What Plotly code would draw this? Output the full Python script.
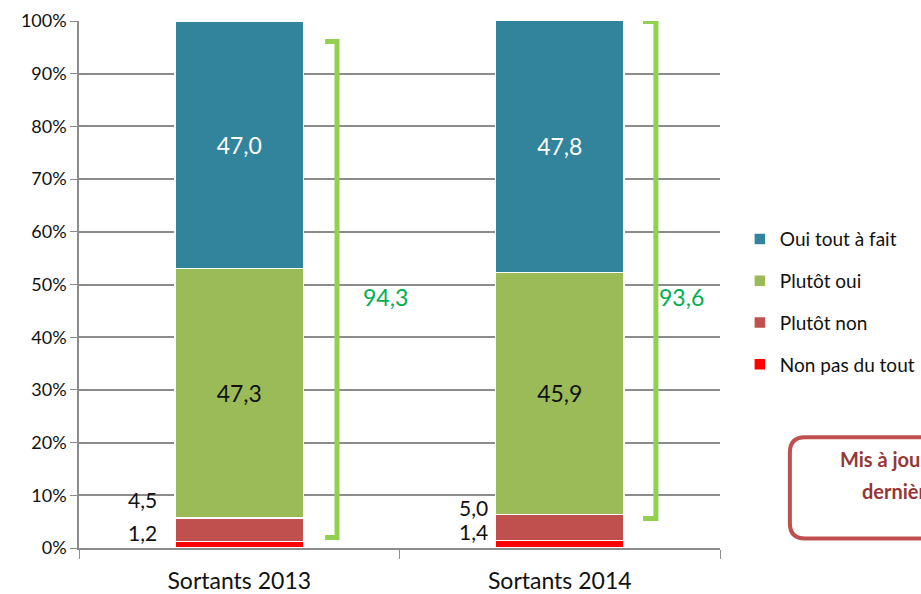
import plotly.graph_objects as go

# données
categories = ['Sortants 2013', 'Sortants 2014']
oui_tout_a_fait = [47.0, 47.8]
plutot_oui = [47.3, 45.9]
plutot_non = [4.5, 5.0]
non_pas_du_tout = [1.2, 1.4]
satisfaits = [94.3, 93.6]

FONT = 'Lato, sans-serif'
W, H = 921, 594
L, R, T, B = 79, 201, 21, 46

fig = go.Figure()
fig.add_trace(go.Bar(x=categories, y=non_pas_du_tout, name='Non pas du tout',
                     marker=dict(color='#FF0000', line=dict(color='white', width=1.5)),
                     legendgroup='d', legendrank=4))
fig.add_trace(go.Bar(x=categories, y=plutot_non, name='Plutôt non',
                     marker=dict(color='#C0504D', line=dict(color='white', width=1.5)),
                     legendgroup='c', legendrank=3))
fig.add_trace(go.Bar(x=categories, y=plutot_oui, name='Plutôt oui',
                     marker=dict(color='#9BBB59', line=dict(color='white', width=1.5)),
                     texttemplate='%{y:.1f}', textposition='inside',
                     insidetextanchor='middle',
                     textfont=dict(color='#111111', size=23, family=FONT),
                     legendgroup='b', legendrank=2))
fig.add_trace(go.Bar(x=categories, y=oui_tout_a_fait, name='Oui tout à fait',
                     marker=dict(color='#31849B', line=dict(color='white', width=1.5)),
                     texttemplate='%{y:.1f}', textposition='inside',
                     insidetextanchor='middle',
                     textfont=dict(color='white', size=23, family=FONT),
                     legendgroup='a', legendrank=1))

# petites valeurs à gauche des barres
shifts = [-80, -70]
for i, cat in enumerate(categories):
    fig.add_annotation(x=cat, y=non_pas_du_tout[i] + 1.7, text=f'{non_pas_du_tout[i]:.1f}'.replace('.', ','),
                       showarrow=False, xanchor='right', xshift=shifts[i],
                       font=dict(size=21, color='#111111', family=FONT))
    fig.add_annotation(x=cat, y=non_pas_du_tout[i] + plutot_non[i] + [3.5, 1.3][i],
                       text=f'{plutot_non[i]:.1f}'.replace('.', ','),
                       showarrow=False, xanchor='right', xshift=shifts[i],
                       font=dict(size=21, color='#111111', family=FONT))

# accolades vertes + total satisfaits
brackets = [(0.4025, 0.384, 2.0, 96.1, 0.478), (0.900, 0.880, 5.6, 99.9, 0.978)]
for (xb, xh, y0, y1, xt), tot in zip(brackets, satisfaits):
    fig.add_shape(type='path', xref='paper', yref='y',
                  path=f'M {xh} {y1} L {xb} {y1} L {xb} {y0} L {xh} {y0}',
                  line=dict(color='#92D050', width=5))
    fig.add_annotation(xref='paper', yref='y', x=xt, y=47.7,
                       text=f'{tot:.1f}'.replace('.', ','), showarrow=False,
                       font=dict(size=23, color='#00B050', family=FONT))

# encadré rouge (coupé à droite)
x0, x1, y0, y1 = 1.109, 1.6, 0.018, 0.210
rx, ry = 0.024, 0.029
fig.add_shape(type='path', xref='paper', yref='paper',
              path=(f'M {x0+rx} {y1} L {x1-rx} {y1} Q {x1} {y1} {x1} {y1-ry} '
                    f'L {x1} {y0+ry} Q {x1} {y0} {x1-rx} {y0} L {x0+rx} {y0} '
                    f'Q {x0} {y0} {x0} {y0+ry} L {x0} {y1-ry} Q {x0} {y1} {x0+rx} {y1} Z'),
              line=dict(color='#C0504D', width=4), fillcolor='white')
fig.add_annotation(xref='paper', yref='paper', x=(838 - L) / 641, y=0.143, xanchor='left',
                   text='<b>Mis à jour avec les</b>', showarrow=False,
                   font=dict(size=20, color='#953735', family=FONT))
fig.add_annotation(xref='paper', yref='paper', x=(860 - L) / 641, y=0.081, xanchor='left',
                   text='<b>dernières données</b>', showarrow=False,
                   font=dict(size=20, color='#953735', family=FONT))

fig.update_layout(
    barmode='stack', bargap=0.6, width=W, height=H,
    margin=dict(l=L, r=R, t=T, b=B, autoexpand=False),
    plot_bgcolor='white', paper_bgcolor='white',
    separators=', ',
    font=dict(family=FONT, color='#111111'),
    showlegend=True, hovermode=False,
    legend=dict(x=1.031, y=0.622, xanchor='left', yanchor='top',
                traceorder='grouped', tracegroupgap=14,
                font=dict(size=19, family=FONT, color='#111111'),
                itemwidth=30),
    uniformtext=dict(mode='show', minsize=10),
)
fig.update_yaxes(range=[0, 100], dtick=10, ticksuffix='%', showgrid=True,
                 gridcolor='#8C8C8C', gridwidth=1.5, showline=True, linecolor='#8C8C8C',
                 linewidth=1.5, ticks='outside', ticklen=7, tickcolor='#8C8C8C',
                 tickfont=dict(size=18, family=FONT, color='#111111'), zeroline=False,
                 automargin=False)
fig.update_xaxes(showline=True, linecolor='#8C8C8C', linewidth=1.5, ticks='outside',
                 tickson='boundaries', ticklen=9, tickcolor='#8C8C8C',
                 tickfont=dict(size=23, family=FONT, color='#111111'),
                 ticklabelstandoff=12, automargin=False)

# la page a une marge de 8 px par défaut : on la retire
fig.write_html('out.html', config={'displayModeBar': False},
               post_script="document.body.style.margin='0';")
